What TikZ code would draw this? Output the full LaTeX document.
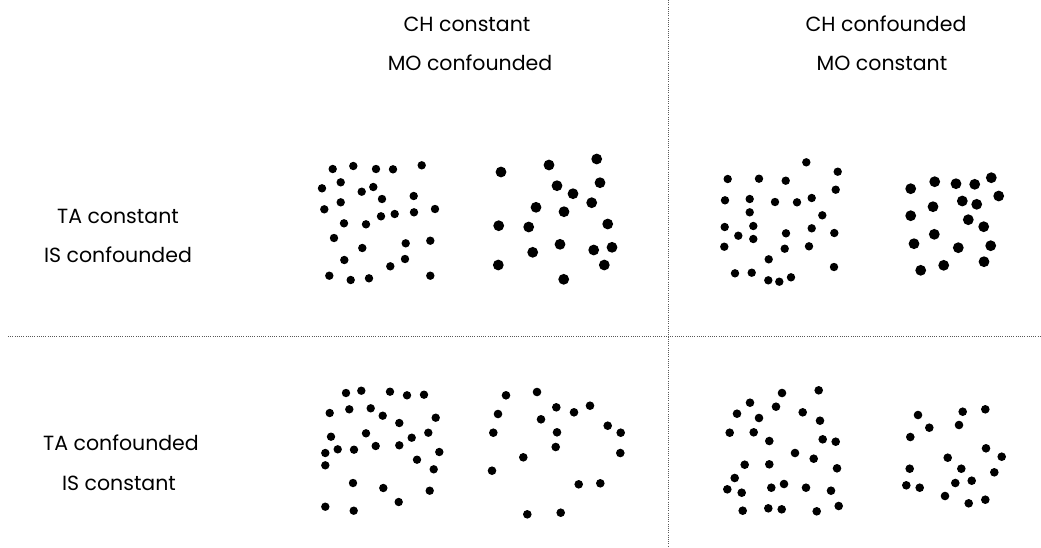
\documentclass[tikz,border=0pt]{standalone}
\usepackage{fontspec}
\setmainfont{Poppins}
\usepackage{tikz}
\usetikzlibrary{positioning}

\begin{document}
\begin{tikzpicture}[x=1pt, y=-1pt,
  lbl/.style={font=\fontsize{20.5}{24}\selectfont, inner sep=0pt},
  dot/.style={fill=black},
  rule/.style={draw=black!65, line width=0.9pt, dash pattern=on 1pt off 1.2pt}]
  \useasboundingbox (0,0) rectangle (1041,547);

  % column and row headings
  \node[lbl] (ch1) at (467,24) {CH constant};
  \node[lbl] (mo1) at (470,63) {MO confounded};
  \node[lbl] (ch2) at (886,24) {CH confounded};
  \node[lbl] (mo2) at (882,63) {MO constant};
  \node[lbl] (ta1) at (118,216) {TA constant};
  \node[lbl] (is1) at (118,255) {IS confounded};
  \node[lbl] (ta2) at (121,443) {TA confounded};
  \node[lbl] (is2) at (119,483) {IS constant};

  % dividers
  \coordinate (vtop) at (668,0);
  \coordinate (vbot) at (668,547);
  \coordinate (hl) at (8,336);
  \coordinate (hr) at (1041,336);
  \draw[rule] (vtop) -- (vbot);
  \draw[rule] (hl) -- (hr);

  % top left, small
  \foreach \x/\y in {332.7/169,353.3/166,376/169,393/169.3,421.7/165.3,322/188.3,
      340.7/182.3,361.7/191.7,373.3/187,413.7/196,382/199,324.3/209.3,340.7/202.3,
      381/216.3,394.7/214,414/212.3,435/209,344/223.3,366/224.3,334/238,362.3/248,
      405.7/243.3,430.3/240.7,344.3/260,405/259,390.3/266.3,329.3/275.7,350.7/280,
      369/278.3,430.3/275.7}
    \fill[dot] (\x,\y) circle[radius=4.2];
  % top left, large
  \foreach \x/\y in {501/172,549/165,596.7/159,557/185.7,573/193.7,600/182.7,
      536/207.3,564/211.7,591.7/202.7,498.7/225.7,528.7/227,607.7/224,560/244.3,
      532.7/252.3,593.7/250,612/247.3,498.3/265,604.3/265,563.7/279.3}
    \fill[dot] (\x,\y) circle[radius=5.4];
  % top right, small
  \foreach \x/\y in {806.3/162.3,727.7/179,759/178.7,785.7/180.7,837.7/171.7,
      835.7/189.7,725/200.3,749.7/199,775/202,797/202.3,811.7/198,749.7/212.3,
      822.3/215.3,724.7/227,738.3/235.7,753.3/226,753.3/239,786/233.3,811.7/228.3,
      834.3/233,724.3/246.7,784.7/248.7,809/246.3,768.7/259.3,834/267,735/273.3,
      751.7/272.7,768.3/280.3,779.3/281.7,791/277.3}
    \fill[dot] (\x,\y) circle[radius=4.2];
  % top right, large
  \foreach \x/\y in {910.7/188.7,934.7/181.7,956/183.7,974.7/184.3,991.3/177.7,
      998.7/196,962.3/201,976.7/204.3,933/206.7,910.7/215.7,968.3/219.7,983.7/226.7,
      934.3/234.3,914/243.7,958.3/247.7,990.7/245.7,984/261.7,943.7/265.3,920.7/270.3}
    \fill[dot] (\x,\y) circle[radius=5.4];
  % bottom left, dense
  \foreach \x/\y in {346/393,361.3/390.7,390/391.7,407/395.3,424/394.7,329.7/413,
      349.3/409.3,370.7/408.3,382.7/415.7,399.3/423,435.7/417.7,331/436.7,366/433.3,
      411.7/437.7,428.3/432.7,325.3/453,337.7/449.3,354/449.7,375.7/446,399.3/445.3,
      439.3/452,417/459.7,325.3/465.3,433.7/469.3,353/483,383.3/488,429.7/490.7,
      398.7/502,325.3/506.7,353.7/510.7}
    \fill[dot] (\x,\y) circle[radius=4.2];
  % bottom left, sparse
  \foreach \x/\y in {506/395.3,537/392,498/414,556.3/407.3,574/412.3,590/405.7,
      541/419.3,493.3/432.7,557/432.3,607.7/425.7,620.7/432.7,555.7/447,523.3/457.3,
      620.3/453,492/470.7,578.7/484.3,600.3/483.3,527.3/514.3,560.7/512.7}
    \fill[dot] (\x,\y) circle[radius=4.3];
  % bottom right, dense
  \foreach \x/\y in {782/393,818.7/390.3,750/402.7,776/406.7,737/413.7,759/418,
      802.7/412.3,820/420.7,729.7/432.7,753.7/432.3,769.3/441,822.7/439.3,835.7/441.7,
      795/453,813.7/458.7,744.7/464.7,769.3/464.3,837/468.3,734.7/478,727.3/489.3,
      741.7/492.7,771.3/487.7,784/484,806/487.7,831/490.7,742.7/510.7,768.3/508.3,
      781.7/509.3,816.7/511.3,838.7/506}
    \fill[dot] (\x,\y) circle[radius=4.3];
  % bottom right, sparse
  \foreach \x/\y in {918/415,962.7/411.7,985.3/409.3,929.3/427.7,959/425,910.3/437,
      986/448.3,1001.7/456.7,947.7/457.7,909.7/468.7,961.3/468.7,994.3/472.3,
      971.7/480.7,955.3/483,906.3/485.3,919.7/487.7,945/496,985.3/499.7,968.7/503.3}
    \fill[dot] (\x,\y) circle[radius=4.3];
\end{tikzpicture}
\end{document}
